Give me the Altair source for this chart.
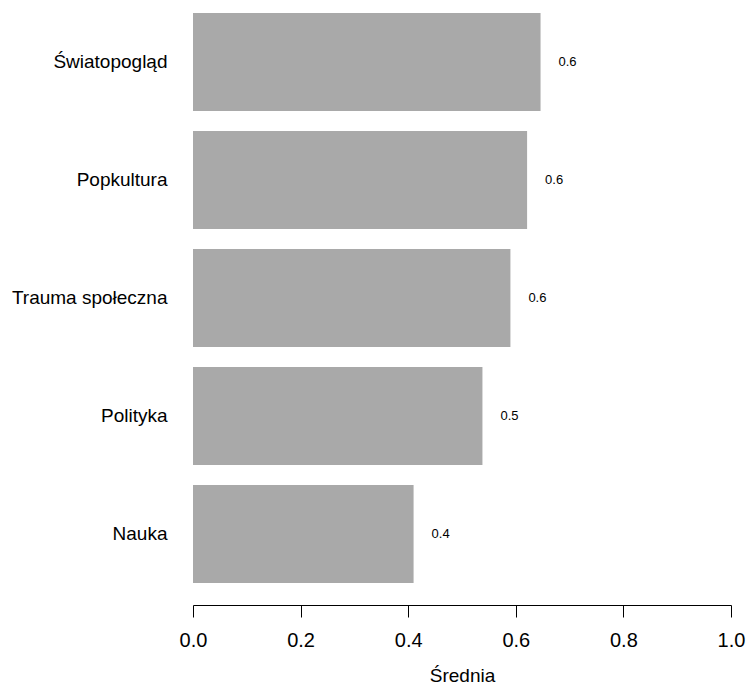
import altair as alt
import pandas as pd

categories = ["Światopogląd", "Popkultura", "Trauma społeczna", "Polityka", "Nauka"]
values = [0.646, 0.621, 0.590, 0.538, 0.410]
x_ticks = [0.0, 0.2, 0.4, 0.6, 0.8, 1.0]

df = pd.DataFrame({"kategoria": categories, "srednia": values})

FONT = "Liberation Sans"

y_enc = alt.Y(
    "kategoria:N",
    sort=categories,
    scale=alt.Scale(paddingInner=0.1695, paddingOuter=0.1144, align=0.185),
    axis=alt.Axis(
        title=None, domain=False, ticks=False, labelFontSize=19, labelFont=FONT,
        labelColor="black", labelPadding=26, labelLimit=300, grid=False,
    ),
)

x_enc = alt.X(
    "srednia:Q",
    scale=alt.Scale(domain=[0, 1], nice=False, zero=True),
    axis=alt.Axis(
        title="Średnia", values=x_ticks, format=".1f", grid=False,
        domainColor="black", tickColor="black", tickSize=12, domainWidth=1, tickWidth=1,
        labelFontSize=20, labelFont=FONT, labelColor="black", labelPadding=13,
        titleFontSize=19, titleFont=FONT, titleFontWeight="normal", titleColor="black",
        titlePadding=16, labelFlush=False,
    ),
)

bars = alt.Chart(df).mark_bar(color="#a9a9a9").encode(x=x_enc, y=y_enc)

labels = alt.Chart(df).mark_text(
    fontSize=13, font=FONT, color="black", align="center", baseline="middle", dx=27
).encode(
    x=alt.X("srednia:Q"),
    y=alt.Y("kategoria:N", sort=categories),
    text=alt.Text("srednia:Q", format=".1f"),
)

chart = (
    alt.layer(bars, labels)
    .properties(
        width=538,
        height=597,
        autosize=alt.AutoSizeParams(type="none"),
        padding={"left": 185, "top": 0, "right": 16, "bottom": 80},
        view=alt.ViewBackground(stroke="transparent", strokeWidth=0, fill="white"),
    )
    .configure_view(stroke="transparent", strokeWidth=0)
    .configure_axis(grid=False)
    .configure(background="white")
)

chart.save("out.html", embed_options={"renderer": "svg", "actions": False})
